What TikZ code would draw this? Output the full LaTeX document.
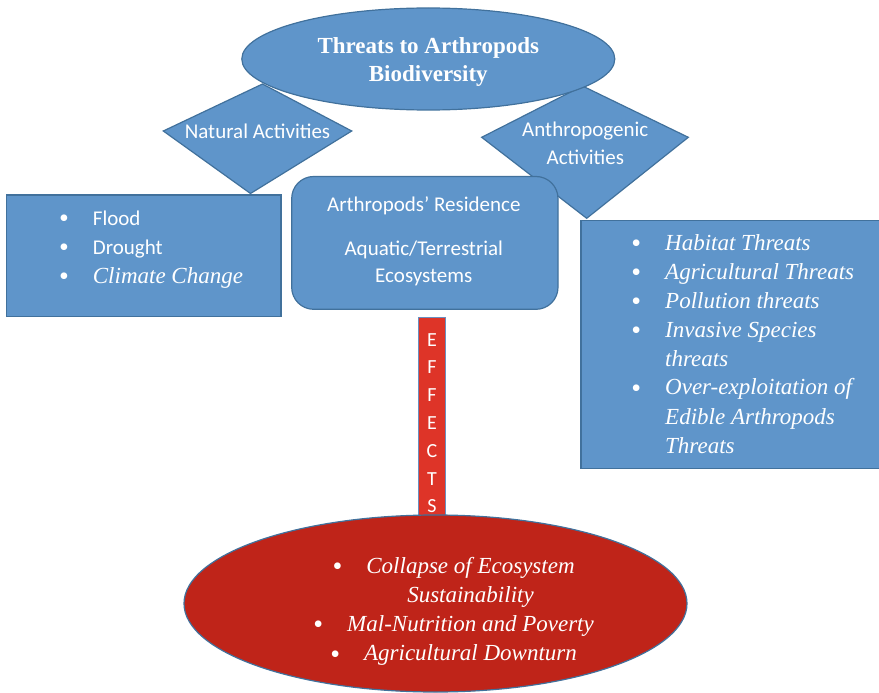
\documentclass[tikz,border=0pt]{standalone}
\usepackage{fontspec}
\setmainfont{Liberation Serif}
\newfontfamily\calibrifont{Carlito}
\usetikzlibrary{shapes.geometric}

\definecolor{boxblue}{RGB}{95,149,202}
\definecolor{edgeblue}{RGB}{65,113,156}
\definecolor{deepred}{RGB}{191,36,25}
\definecolor{barred}{RGB}{222,52,40}
\definecolor{baredge}{RGB}{106,143,191}

% hanging bullet placed to the left of a list line
\newcommand{\hangbul}{\llap{\raisebox{-2.2pt}{\rmfamily\upshape\fontsize{28}{29}\selectfont\textbullet}\hspace{24pt}}}

\tikzset{
  bluefill/.style={fill=boxblue, draw=edgeblue, line width=1.2pt},
  redfill/.style={fill=deepred, draw=edgeblue, line width=1.2pt},
  txt/.style={inner sep=0pt, text=white},
}

\begin{document}
\begin{tikzpicture}[x=1pt,y=-1pt]
\useasboundingbox (0,0) rectangle (879,693);

% --- the two category diamonds (behind the title ellipse)
\coordinate (natL) at (163.3,131);
\coordinate (natT) at (262.5,84);
\coordinate (natR) at (351.7,131);
\coordinate (natB) at (250.5,193.5);
\filldraw[bluefill, line join=miter] (natL) -- (natT) -- (natR) -- (natB) -- cycle;

\coordinate (antL) at (481.7,137.3);
\coordinate (antT) at (582.5,86);
\coordinate (antR) at (688.3,137.3);
\coordinate (antB) at (586.7,218.3);
\filldraw[bluefill, line join=miter] (antL) -- (antT) -- (antR) -- (antB) -- cycle;

% --- title ellipse
\node[ellipse, bluefill, minimum width=373pt, minimum height=102pt, inner sep=0pt] (titleshape) at (428.3,59) {};
\node[txt, anchor=base, font=\bfseries\fontsize{23}{28.4}\selectfont] (title) at (428.3,53.3)
  {\begin{tabular}[t]{@{}c@{}}Threats to Arthropods\\Biodiversity\end{tabular}};

% --- diamond labels
\node[txt, anchor=base, font=\calibrifont\fontsize{21}{27.5}\selectfont] (natural) at (257.5,138.3) {Natural Activities};
\node[txt, anchor=base, font=\calibrifont\fontsize{21}{27.6}\selectfont] (anthro) at (585.3,136.7)
  {\begin{tabular}[t]{@{}c@{}}Anthropogenic\\Activities\end{tabular}};

% --- natural threats box
\filldraw[bluefill] (6.7,195) rectangle (281,316.7);
\node[txt, anchor=base west, font=\calibrifont\fontsize{21}{29}\selectfont] (natlist) at (92.7,225)
  {\begin{tabular}[t]{@{}l@{}}
   \hangbul Flood\\
   \hangbul Drought\\
   \hangbul{\rmfamily\itshape\fontsize{23}{29}\selectfont Climate Change}
   \end{tabular}};

% --- residence box
\filldraw[bluefill, rounded corners=22pt] (291.7,176.5) rectangle (558,309.3);
\node[txt, anchor=base, font=\calibrifont\fontsize{21}{27.7}\selectfont] (residence) at (423.8,211.7)
  {\begin{tabular}[t]{@{}c@{}}Arthropods’ Residence\\[15.6pt]Aquatic/Terrestrial\\Ecosystems\end{tabular}};

% --- anthropogenic threats box
\filldraw[bluefill] (581,220.7) rectangle (882,468.3);
\node[txt, anchor=base west, font=\itshape\fontsize{23}{29}\selectfont] (anthrolist) at (665,250)
  {\begin{tabular}[t]{@{}l@{}}
   \hangbul Habitat Threats\\
   \hangbul Agricultural Threats\\
   \hangbul Pollution threats\\
   \hangbul Invasive Species\\
   threats\\
   \hangbul Over-exploitation of\\
   Edible Arthropods\\
   Threats
   \end{tabular}};

% --- vertical EFFECTS bar
\filldraw[fill=barred, draw=baredge, line width=1.2pt] (418.3,317.7) rectangle (445.7,520);
\node[txt, anchor=base, font=\calibrifont\fontsize{20}{27.8}\selectfont] (effects) at (431.9,346)
  {\begin{tabular}[t]{@{}c@{}}E\\F\\F\\E\\C\\T\\S\end{tabular}};

% --- consequences ellipse
\node[ellipse, redfill, minimum width=503pt, minimum height=177pt, inner sep=0pt] (effectshape) at (435.5,603.5) {};
\node[txt, anchor=base, font=\itshape\fontsize{23}{29.3}\selectfont] (effectlist) at (470.5,573)
  {\begin{tabular}[t]{@{}c@{}}
   \hangbul Collapse of Ecosystem\\
   Sustainability\\
   \hangbul Mal-Nutrition and Poverty\\
   \hangbul Agricultural Downturn
   \end{tabular}};
\end{tikzpicture}
\end{document}
